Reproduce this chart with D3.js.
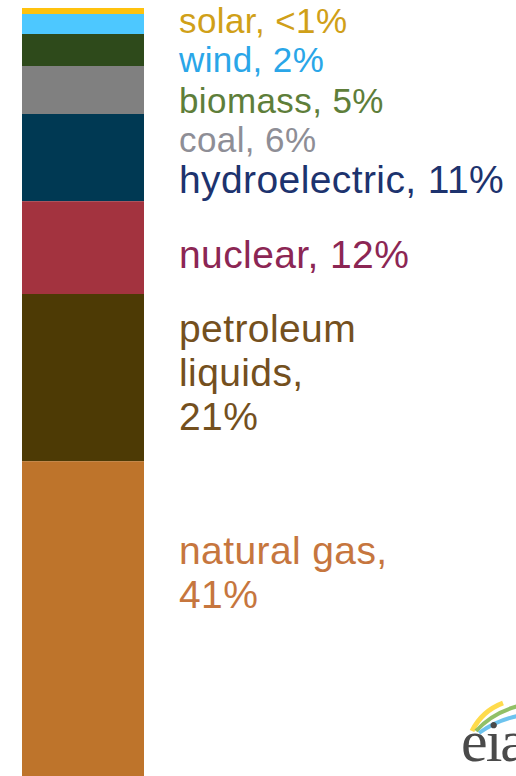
<!DOCTYPE html>
<html>
<head>
<meta charset="utf-8">
<script src="https://cdn.jsdelivr.net/npm/d3@7"></script>
<style>
  html, body { margin: 0; padding: 0; background: #fff; }
  svg { display: block; }
</style>
</head>
<body>
<svg id="chart" width="516" height="776"></svg>
<script>
// ---- data ----
const categories = ["solar", "wind", "biomass", "coal", "hydroelectric", "nuclear", "petroleum liquids", "natural gas"];
const shares = [0.75, 2.5, 4, 6, 10.9, 11.6, 20.9, 41];
const labelLines = [
  ["solar, <1%"],
  ["wind, 2%"],
  ["biomass, 5%"],
  ["coal, 6%"],
  ["hydroelectric, 11%"],
  ["nuclear, 12%"],
  ["petroleum", "liquids,", "21%"],
  ["natural gas,", "41%"]
];
const barGroup = ["share"];

// ---- style / layout ----
const barColors = ["#FFC20E", "#4DC8FF", "#2E4A1B", "#808080", "#003953", "#A3333F", "#4D3A05", "#BE742B"];
const textColors = ["#D0A018", "#2AA6E8", "#5E7E3A", "#8E8E96", "#1D336E", "#8C2654", "#74501E", "#C6763E"];
const labelBaselines = [33, 72, 113, 152, 193, 268, 342, 564];
const labelSizes = [35, 35, 35, 35, 39, 39, 39, 39];
const lineGap = 44;
const labelX = 179;

const svg = d3.select("#chart");

const row = {};
categories.forEach((c, i) => row[c] = shares[i]);
const stacked = d3.stack().keys(categories)([row]);

const x = d3.scaleBand().domain(barGroup).range([22, 144]).paddingInner(0).paddingOuter(0);
const y = d3.scaleLinear().domain([0, 100]).range([8, 808]);

svg.append("g")
  .selectAll("rect")
  .data(stacked)
  .join("rect")
  .attr("x", x("share"))
  .attr("width", x.bandwidth())
  .attr("y", d => y(d[0][0]))
  .attr("height", d => y(d[0][1]) - y(d[0][0]))
  .attr("fill", (d, i) => barColors[i]);

const labels = svg.append("g")
  .attr("font-family", "'Liberation Sans', Arial, sans-serif")
  .selectAll("text")
  .data(categories)
  .join("text")
  .attr("x", labelX)
  .attr("y", (d, i) => labelBaselines[i])
  .attr("font-size", (d, i) => labelSizes[i])
  .attr("letter-spacing", 0.4)
  .attr("fill", (d, i) => textColors[i]);

labels.each(function(d, i) {
  d3.select(this).selectAll("tspan")
    .data(labelLines[i])
    .join("tspan")
    .attr("x", labelX)
    .attr("dy", (t, j) => j === 0 ? 0 : lineGap)
    .text(t => t);
});

// ---- eia logo (cropped at right edge) ----
const logo = svg.append("g");
const swooshes = [
  { c: "#FFD21F", w: 5, p: [[472, 731], [482, 711], [503, 703]] },
  { c: "#76B041", w: 4, p: [[476, 731], [492, 713], [518, 706]] },
  { c: "#49B4EA", w: 4, p: [[479, 733], [497, 720], [518, 716]] }
];
swooshes.forEach(s => {
  const path = d3.path();
  path.moveTo(s.p[0][0], s.p[0][1]);
  path.quadraticCurveTo(s.p[1][0], s.p[1][1], s.p[2][0], s.p[2][1]);
  logo.append("path").attr("d", path.toString())
    .attr("fill", "none").attr("stroke", s.c).attr("stroke-width", s.w)
    .attr("opacity", 0.8);
});
logo.append("text")
  .attr("x", 461).attr("y", 761)
  .attr("font-family", "'Liberation Serif', 'Times New Roman', serif")
  .attr("font-size", 60)
  .attr("letter-spacing", -2)
  .attr("fill", "#4a4a4a")
  .text("eia");
</script>
</body>
</html>
